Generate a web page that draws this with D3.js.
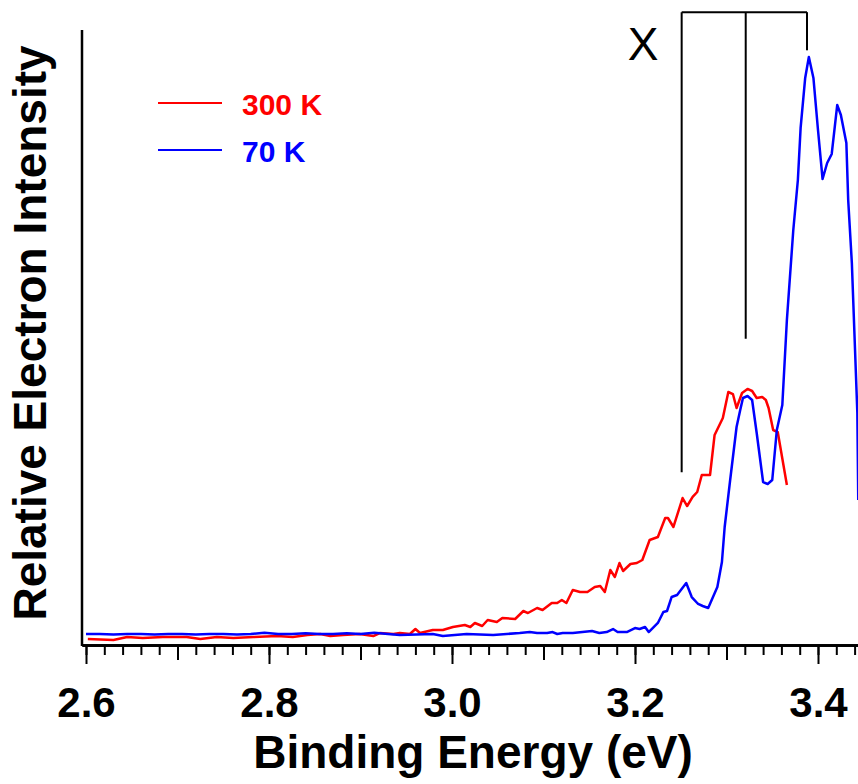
<!DOCTYPE html>
<html>
<head>
<meta charset="utf-8">
<script src="https://cdn.jsdelivr.net/npm/d3@7"></script>
<style>
  body { margin: 0; background: #fff; }
  svg { display: block; font-family: "Liberation Sans", Arial, sans-serif; }
</style>
</head>
<body>
<svg width="858" height="784"></svg>
<script>
// spectra: [binding energy (eV), relative intensity]
const red300K = [
  [2.602,0.98],[2.630,0.81],[2.645,1.30],[2.662,1.14],[2.684,1.30],[2.710,1.30],[2.725,0.98],
  [2.743,1.30],[2.761,1.14],[2.783,1.30],[2.809,1.46],[2.826,1.30],[2.842,1.63],[2.856,1.79],
  [2.867,1.46],[2.881,1.63],[2.899,1.79],[2.914,1.46],[2.921,1.95],[2.936,1.79],[2.943,1.95],
  [2.954,1.79],[2.960,2.60],[2.965,1.95],[2.979,2.44],[2.990,2.44],[3.001,2.93],[3.014,3.25],
  [3.020,2.93],[3.025,3.58],[3.033,3.09],[3.039,4.07],[3.049,3.74],[3.055,4.39],[3.069,4.23],
  [3.078,5.53],[3.083,5.20],[3.093,6.02],[3.099,5.69],[3.109,6.83],[3.115,6.83],[3.120,7.32],
  [3.125,6.83],[3.132,8.94],[3.140,8.62],[3.148,8.62],[3.156,9.43],[3.162,9.59],[3.167,8.62],
  [3.173,12.20],[3.178,11.06],[3.183,13.33],[3.187,12.03],[3.195,13.17],[3.202,13.33],[3.208,13.82],
  [3.216,17.07],[3.225,17.56],[3.233,20.65],[3.236,20.65],[3.242,19.19],[3.252,23.90],[3.257,22.60],
  [3.263,24.07],[3.268,24.88],[3.273,27.64],[3.282,27.64],[3.287,34.15],[3.296,36.91],[3.302,41.14],
  [3.307,40.81],[3.311,38.54],[3.317,40.98],[3.323,41.63],[3.328,41.30],[3.333,40.16],[3.339,40.33],
  [3.343,39.84],[3.346,38.54],[3.351,34.96],[3.356,34.63],[3.366,26.02]
];

const blue70K = [
  [2.600,1.8],[2.615,1.8],[2.630,1.7],[2.645,1.8],[2.660,1.8],[2.675,1.7],[2.690,1.8],[2.705,1.8],
  [2.720,1.7],[2.735,1.8],[2.750,1.8],[2.765,1.7],[2.780,1.8],[2.795,2.0],[2.810,1.8],[2.825,1.8],
  [2.840,1.9],[2.855,1.8],[2.870,1.8],[2.885,1.9],[2.900,1.8],[2.915,2.0],[2.930,1.8],
  [2.943,1.63],[2.979,1.79],[2.990,1.46],[3.016,1.79],[3.045,1.63],[3.074,1.95],[3.085,2.11],
  [3.093,1.95],[3.104,1.95],[3.110,2.11],[3.115,1.79],[3.121,1.95],[3.132,1.95],[3.153,2.28],
  [3.161,1.95],[3.169,2.11],[3.176,2.60],[3.181,2.11],[3.191,2.11],[3.200,2.76],[3.205,2.60],
  [3.211,2.93],[3.215,2.11],[3.225,3.58],[3.231,5.37],[3.235,5.53],[3.240,7.80],[3.246,8.13],
  [3.256,10.08],[3.262,7.80],[3.269,6.67],[3.274,6.34],[3.280,6.02],[3.290,9.43],[3.295,13.50],
  [3.298,19.19],[3.304,26.83],[3.311,35.45],[3.315,38.21],[3.318,40.16],[3.323,40.49],[3.328,39.84],
  [3.333,34.47],[3.340,26.50],[3.345,26.18],[3.350,26.83],[3.355,34.96],[3.361,39.02],[3.366,52.85],
  [3.373,67.48],[3.378,75.61],[3.381,84.07],[3.386,92.20],[3.390,95.61],[3.395,92.20],[3.400,83.74],
  [3.405,75.77],[3.410,78.37],[3.415,79.84],[3.421,87.80],[3.425,86.18],[3.431,81.63],[3.433,72.36],
  [3.437,62.11],[3.443,37.72],[3.444,23.58]
];

const series = [
  { name: "300 K", color: "#ff0000", values: red300K },
  { name: "70 K",  color: "#0000ff", values: blue70K }
];

const majorTicks = [2.6, 2.8, 3.0, 3.2, 3.4];
const midTicks = [2.7, 2.9, 3.1, 3.3];
const minorTicks = d3.range(0, 43).map(i => +(2.6 + i * 0.02).toFixed(2));

// "X" bracket annotation
const bracketE = [3.251, 3.321, 3.388];
const bracketBottom = [28.1, 49.8, 96.7];
const bracketTop = 102.9;

const svg = d3.select("svg");
const plotL = 82, plotR = 858, plotT = 30, plotB = 645;

const x = d3.scaleLinear()
  .domain([2.6 - 4 / 915, 2.6 + 772 / 915])
  .range([plotL, plotR]);
const y = d3.scaleLinear().domain([0, 100]).range([plotB, plotT]);

svg.append("defs").append("clipPath").attr("id", "plot")
  .append("rect").attr("x", plotL).attr("y", 0).attr("width", plotR - plotL).attr("height", plotB);

// axes
const xAxisG = svg.append("g").attr("transform", `translate(0,${plotB})`);
xAxisG.append("g")
  .call(d3.axisBottom(x).tickValues(minorTicks).tickSize(10).tickFormat("").tickSizeOuter(0));
xAxisG.append("g")
  .call(d3.axisBottom(x).tickValues(midTicks).tickSize(15).tickFormat("").tickSizeOuter(0));
xAxisG.append("g")
  .call(d3.axisBottom(x).tickValues(majorTicks).tickSize(19).tickPadding(23)
    .tickFormat(d3.format(".1f")).tickSizeOuter(0));
xAxisG.selectAll("path").attr("stroke", "#000").attr("stroke-width", 2.5);
xAxisG.selectAll("line").attr("stroke", "#000").attr("stroke-width", 2);
xAxisG.selectAll("text")
  .attr("fill", "#000")
  .style("font-size", "42px")
  .style("font-weight", "bold");

svg.append("line")
  .attr("x1", plotL).attr("x2", plotL)
  .attr("y1", plotT).attr("y2", plotB + 1)
  .attr("stroke", "#000").attr("stroke-width", 2.5);

// spectra
const line = d3.line().x(d => x(d[0])).y(d => y(d[1]));
svg.append("g").attr("clip-path", "url(#plot)")
  .selectAll("path")
  .data(series)
  .enter()
  .append("path")
  .attr("d", d => line(d.values))
  .attr("fill", "none")
  .attr("stroke", d => d.color)
  .attr("stroke-width", 2.5)
  .attr("stroke-linejoin", "round");

// bracket
const br = svg.append("g").attr("stroke", "#000").attr("stroke-width", 2).attr("fill", "none");
br.append("line")
  .attr("x1", x(bracketE[0])).attr("x2", x(bracketE[2]))
  .attr("y1", y(bracketTop)).attr("y2", y(bracketTop));
br.selectAll("line.v")
  .data(bracketE)
  .enter()
  .append("line")
  .attr("class", "v")
  .attr("x1", d => x(d)).attr("x2", d => x(d))
  .attr("y1", y(bracketTop))
  .attr("y2", (d, i) => y(bracketBottom[i]));

svg.append("text")
  .attr("x", 643).attr("y", 60)
  .attr("text-anchor", "middle")
  .style("font-size", "46px")
  .text("X");

// legend
const legend = svg.selectAll("g.legend")
  .data(series)
  .enter()
  .append("g")
  .attr("class", "legend")
  .attr("transform", (d, i) => `translate(158,${103 + i * 47})`);
legend.append("line")
  .attr("x1", 0).attr("x2", 64)
  .attr("stroke", d => d.color).attr("stroke-width", 2);
legend.append("text")
  .attr("x", 84).attr("y", 12)
  .attr("fill", d => d.color)
  .style("font-size", "30px")
  .style("font-weight", "bold")
  .text(d => d.name);

// axis titles
svg.append("text")
  .attr("x", 473).attr("y", 768)
  .attr("text-anchor", "middle")
  .style("font-size", "46px")
  .style("font-weight", "bold")
  .text("Binding Energy (eV)");

svg.append("text")
  .attr("transform", "translate(46,333) rotate(-90)")
  .attr("text-anchor", "middle")
  .style("font-size", "46px")
  .style("font-weight", "bold")
  .text("Relative Electron Intensity");
</script>
</body>
</html>
